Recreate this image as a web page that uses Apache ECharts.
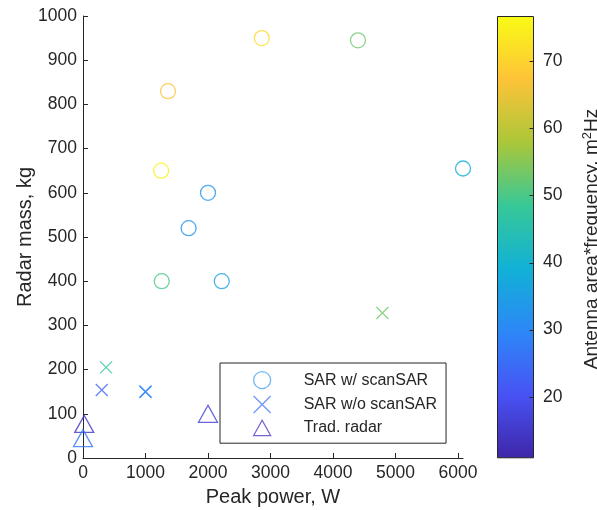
<!DOCTYPE html>
<html>
<head>
<meta charset="utf-8">
<script src="https://cdn.jsdelivr.net/npm/echarts@6/dist/echarts.min.js"></script>
<style>
  html, body { margin: 0; padding: 0; background: #fff; }
  #chart { width: 597px; height: 510px; }
</style>
</head>
<body>
<div id="chart"></div>
<script>
// SAR with scanSAR: peak power (W), radar mass (kg), antenna area * frequency (m^2 Hz)
const scanSarPower = [2860, 1360, 1250, 2000, 1690, 4400, 6080, 1260, 2220];
const scanSarMass  = [950, 830, 650, 600, 520, 945, 655, 400, 400];
const scanSarAF    = [71, 67, 75, 33, 33, 53, 39, 50, 36];

// SAR without scanSAR
const noScanPower = [370, 300, 1000, 1000, 4790];
const noScanMass  = [205, 154, 150, 150, 328];
const noScanAF    = [47, 24, 29, 30, 53];

// Traditional radar
const tradPower = [20, 0, 2000];
const tradMass  = [77, 45, 100];
const tradAF    = [14, 27, 16];

const seriesNames = ['SAR w/ scanSAR', 'SAR w/o scanSAR', 'Trad. radar'];
const xTicks = [0, 1000, 2000, 3000, 4000, 5000, 6000];
const yTicks = [0, 100, 200, 300, 400, 500, 600, 700, 800, 900, 1000];
const cbTicks = [20, 30, 40, 50, 60, 70];

const xMax = 6080;
const cbMin = 11, cbMax = 76.7;       // colour scale limits
const cbAxisMin = 10, cbAxisMax = 77; // axis range holding the colour bar

// parula-like colour ramp
const parula = ['#3E26A8', '#4852F4', '#2D87F7', '#11B1D6', '#37C897', '#ABC739', '#FEC338', '#F9FB15'];

const ink = '#262626';
const font = '"Liberation Sans", Arial, Helvetica, sans-serif';
const crossPath = 'path://M0,0L10,10M10,0L0,10';
const triPath = 'path://M5,0L10,9L0,9Z';

function colorOf(v) {
  const t = echarts.number.linearMap(v, [cbMin, cbMax], [0, 1], true);
  return echarts.color.lerp(t, parula);
}

function points(xs, ys, cs) {
  return xs.map((x, i) => ({
    value: [x, ys[i], cs[i]],
    itemStyle: { borderColor: colorOf(cs[i]) }
  }));
}

const chart = echarts.init(document.getElementById('chart'), null, { renderer: 'canvas' });

const markerStyle = { color: 'rgba(0,0,0,0)', borderWidth: 1.3 };
const legendIcon = (icon, color) => ({
  icon: icon,
  itemStyle: { color: 'rgba(0,0,0,0)', borderColor: color, borderWidth: 1.3 }
});

const option = {
  animation: false,
  backgroundColor: '#fff',
  textStyle: { fontFamily: font, color: ink },
  grid: [
    { left: 83, top: 16, width: 380, height: 442, outerBoundsMode: 'none', containLabel: false },
    // colour-bar axis box: 11..76.7 spans y = 16..457
    { left: 497, top: 14, width: 36, height: 450, outerBoundsMode: 'none', containLabel: false }
  ],
  xAxis: [
    {
      gridIndex: 0, type: 'value', min: 0, max: xMax, interval: 1000,
      name: 'Peak power, W', nameLocation: 'middle', nameGap: 29, nameMoveOverlap: false,
      nameTextStyle: { fontSize: 20, color: ink, fontFamily: font },
      axisLine: { show: true, lineStyle: { color: ink, width: 1 } },
      axisTick: { show: true, inside: true, length: 5, lineStyle: { color: ink } },
      axisLabel: { fontSize: 17.5, color: ink, margin: 6, showMaxLabel: false,
        formatter: v => xTicks.includes(v) ? String(v) : '' },
      splitLine: { show: false }
    },
    { gridIndex: 1, type: 'value', min: 0, max: 1, show: false }
  ],
  yAxis: [
    {
      gridIndex: 0, type: 'value', min: 0, max: 1000, interval: 100,
      name: 'Radar mass, kg', nameLocation: 'middle', nameGap: 48, nameMoveOverlap: false,
      nameTextStyle: { fontSize: 20, color: ink, fontFamily: font },
      axisLine: { show: true, lineStyle: { color: ink, width: 1 } },
      axisTick: { show: true, inside: true, length: 5, lineStyle: { color: ink } },
      axisLabel: { fontSize: 17.5, color: ink, margin: 6,
        formatter: v => yTicks.includes(v) ? String(v) : '' },
      splitLine: { show: false }
    },
    {
      gridIndex: 1, type: 'value', min: cbAxisMin, max: cbAxisMax, interval: 10,
      position: 'right',
      name: 'Antenna area*frequency, m{sup|2}Hz', nameLocation: 'middle', nameGap: 48,
      nameMoveOverlap: false, nameRotate: 90,
      nameTextStyle: { fontSize: 19, color: ink, fontFamily: font,
        rich: { sup: { fontSize: 13, verticalAlign: 'bottom', padding: [0, 0, 9, 0], color: ink, fontFamily: font } } },
      axisLine: { show: false },
      axisTick: { show: false },
      axisLabel: { fontSize: 17.5, color: ink, margin: 10, showMaxLabel: false,
        formatter: v => cbTicks.includes(v) ? String(v) : '' },
      splitLine: { show: false }
    }
  ],
  legend: {
    orient: 'vertical', left: 220, top: 363,
    padding: [8, 9, 7, 33],
    itemWidth: 17, itemHeight: 17, itemGap: 6,
    backgroundColor: '#fff', borderColor: ink, borderWidth: 1, borderRadius: 0,
    textStyle: { fontSize: 16, color: ink, fontFamily: font,
      rich: { g: { width: 28 } } },
    formatter: name => '{g|}' + name,
    data: [
      Object.assign({ name: seriesNames[0] }, legendIcon('circle', '#4DA3F0')),
      Object.assign({ name: seriesNames[1] }, legendIcon(crossPath, '#4C7DF5')),
      Object.assign({ name: seriesNames[2] }, legendIcon(triPath, '#5A3CC0'))
    ],
    selectedMode: false
  },
  series: [
    {
      name: seriesNames[0], type: 'scatter', xAxisIndex: 0, yAxisIndex: 0,
      symbol: 'circle', symbolSize: 15, clip: false,
      itemStyle: markerStyle,
      data: points(scanSarPower, scanSarMass, scanSarAF)
    },
    {
      name: seriesNames[1], type: 'scatter', xAxisIndex: 0, yAxisIndex: 0,
      symbol: crossPath, symbolSize: 12, clip: false,
      itemStyle: markerStyle,
      data: points(noScanPower, noScanMass, noScanAF)
    },
    {
      name: seriesNames[2], type: 'scatter', xAxisIndex: 0, yAxisIndex: 0,
      symbol: triPath, symbolSize: [19, 17], clip: false,
      itemStyle: markerStyle,
      data: points(tradPower, tradMass, tradAF)
    },
    {
      // colour bar: gradient rectangle over the colour scale, ticks on its right edge
      name: 'colorbar', type: 'custom', xAxisIndex: 1, yAxisIndex: 1,
      silent: true, clip: false,
      data: [[0, 1, cbMin, cbMax]],
      renderItem: function (params, api) {
        const p0 = api.coord([api.value(0), api.value(3)]);
        const p1 = api.coord([api.value(1), api.value(2)]);
        const stops = parula.map((c, i) => ({ offset: i / (parula.length - 1), color: c }));
        const children = [{
          type: 'rect',
          shape: { x: p0[0] + 0.5, y: p0[1] + 0.5, width: p1[0] - p0[0], height: p1[1] - p0[1] },
          style: {
            fill: new echarts.graphic.LinearGradient(0, 1, 0, 0, stops),
            stroke: ink, lineWidth: 1
          }
        }];
        cbTicks.forEach(t => {
          const p = api.coord([1, t]);
          const y = Math.round(p[1]) + 0.5;
          children.push({
            type: 'line',
            shape: { x1: p1[0] + 0.5 - 4, y1: y, x2: p1[0] + 0.5, y2: y },
            style: { stroke: ink, lineWidth: 1 }
          });
        });
        return { type: 'group', children: children };
      }
    }
  ]
};

chart.setOption(option);
</script>
</body>
</html>
